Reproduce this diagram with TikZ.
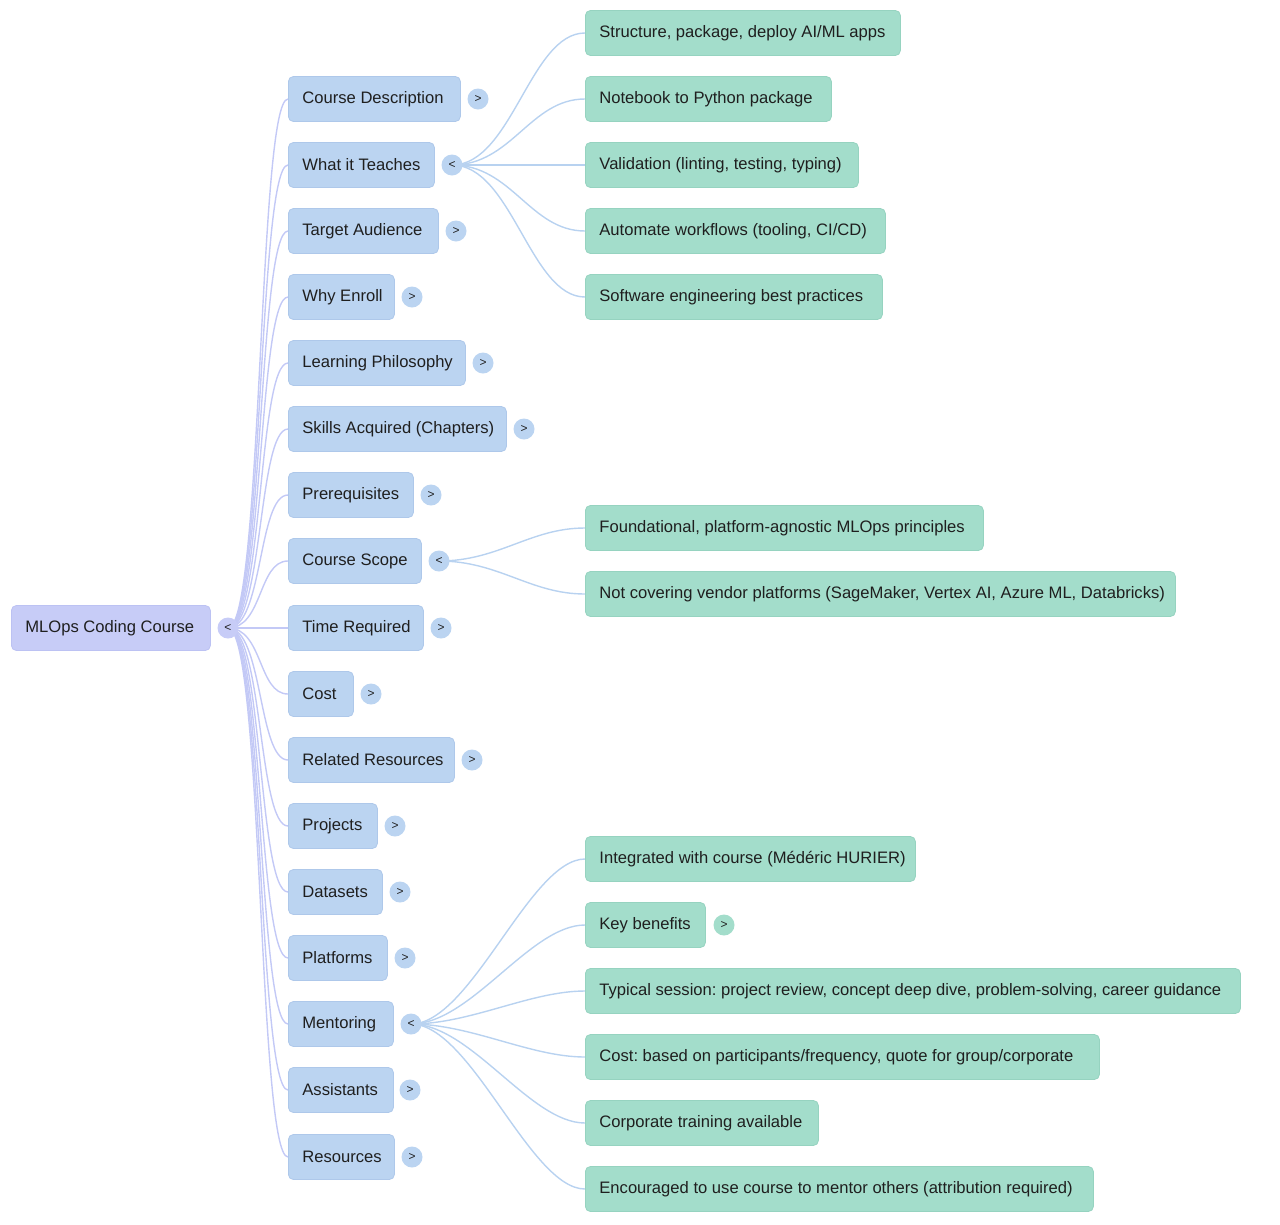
\documentclass[tikz,border=0pt]{standalone}
\usepackage{fontspec}
\setmainfont{Liberation Sans}
\frenchspacing
\usetikzlibrary{backgrounds}
\definecolor{rootfill}{HTML}{C7CCF7}
\definecolor{rootedge}{HTML}{BCC2F3}
\definecolor{rootline}{HTML}{C3C9F6}
\definecolor{onefill}{HTML}{BBD4F1}
\definecolor{oneedge}{HTML}{AEC8EA}
\definecolor{twofill}{HTML}{A3DDCB}
\definecolor{twoedge}{HTML}{96D3C0}
\definecolor{linkblue}{HTML}{B8D2F0}
\definecolor{txt}{HTML}{1F1F1F}
\tikzset{
  base/.style={rounded corners=5pt, minimum height=45pt, inner xsep=14pt, inner ysep=0pt, text=txt, font=\fontsize{16.6}{20}\selectfont, line width=0.8pt},
  rootbox/.style={base, fill=rootfill, draw=rootedge},
  lonebox/.style={base, fill=onefill, draw=oneedge},
  ltwobox/.style={base, fill=twofill, draw=twoedge},
  tog/.style={circle, minimum size=21pt, inner sep=0pt, text=txt, font=\fontsize{12}{12}\selectfont},
  rootlink/.style={draw=rootline, line width=1.4pt},
  link/.style={draw=linkblue, line width=1.4pt},
}
\newcommand\Lone[6]{% name, y, textwidth, text, togx, symbol
  \node[lonebox, anchor=west] (#1) at (288,#2) {\raisebox{-1pt}{\makebox[#3pt][l]{#4}}};
  \node[tog, fill=onefill] (#1t) at (#5,#2) {#6};
  \begin{scope}[on background layer]
  \draw[rootlink] (roott.center) .. controls +(35,0) and +(-30,0) .. (#1.west);
  \end{scope}}
\newcommand\Ltwo[5]{% name, y, textwidth, text, parent toggle
  \node[ltwobox, anchor=west] (#1) at (585,#2) {\raisebox{-1pt}{\makebox[#3pt][l]{#4}}};
  \begin{scope}[on background layer]
  \draw[link] (#5.center) .. controls +(60,0) and +(-55,0) .. (#1.west);
  \end{scope}}
\begin{document}
\begin{tikzpicture}[x=1pt,y=-1pt]
\useasboundingbox (0,0) rectangle (1280,1224);
\node[rootbox, anchor=west] (root) at (11,628) {\raisebox{-1pt}{\makebox[171pt][l]{MLOps Coding Course}}};
\node[tog, fill=rootfill] (roott) at (228,628) {<};
\Lone{cd}{99}{144}{Course Description}{478}{>}
\Lone{wt}{165}{118}{What it Teaches}{452}{<}
\Lone{ta}{231}{122}{Target Audience}{456}{>}
\Lone{we}{297}{78}{Why Enroll}{412}{>}
\Lone{lp}{363}{149}{Learning Philosophy}{483}{>}
\Lone{sa}{429}{190}{Skills Acquired (Chapters)}{524}{>}
\Lone{pr}{495}{97}{Prerequisites}{431}{>}
\Lone{cs}{561}{105}{Course Scope}{439}{<}
\Lone{tr}{628}{107}{Time Required}{441}{>}
\Lone{co}{694}{37}{Cost}{371}{>}
\Lone{rr}{760}{138}{Related Resources}{472}{>}
\Lone{pj}{826}{61}{Projects}{395}{>}
\Lone{ds}{892}{66}{Datasets}{400}{>}
\Lone{pf}{958}{71}{Platforms}{405}{>}
\Lone{me}{1024}{77}{Mentoring}{411}{<}
\Lone{as}{1090}{77}{Assistants}{410}{>}
\Lone{rs}{1157}{78}{Resources}{412}{>}
% What it Teaches
\Ltwo{w1}{33}{287}{Structure, package, deploy AI/ML apps}{wtt}
\Ltwo{w2}{99}{218}{Notebook to Python package}{wtt}
\Ltwo{w3}{165}{245}{Validation (linting, testing, typing)}{wtt}
\Ltwo{w4}{231}{272}{Automate workflows (tooling, CI/CD)}{wtt}
\Ltwo{w5}{297}{269}{Software engineering best practices}{wtt}
% Course Scope
\Ltwo{c1}{528}{370}{Foundational, platform-agnostic MLOps principles}{cst}
\Ltwo{c2}{594}{562}{Not covering vendor platforms (SageMaker, Vertex AI, Azure ML, Databricks)}{cst}
% Mentoring
\Ltwo{m1}{859}{302}{Integrated with course (Médéric HURIER)}{met}
\Ltwo{m2}{925}{92}{Key benefits}{met}
\node[tog, fill=twofill] (m2t) at (724,925) {>};
\Ltwo{m3}{991}{627}{Typical session: project review, concept deep dive, problem-solving, career guidance}{met}
\Ltwo{m4}{1057}{486}{Cost: based on participants/frequency, quote for group/corporate}{met}
\Ltwo{m5}{1123}{205}{Corporate training available}{met}
\Ltwo{m6}{1189}{480}{Encouraged to use course to mentor others (attribution required)}{met}
\end{tikzpicture}
\end{document}
